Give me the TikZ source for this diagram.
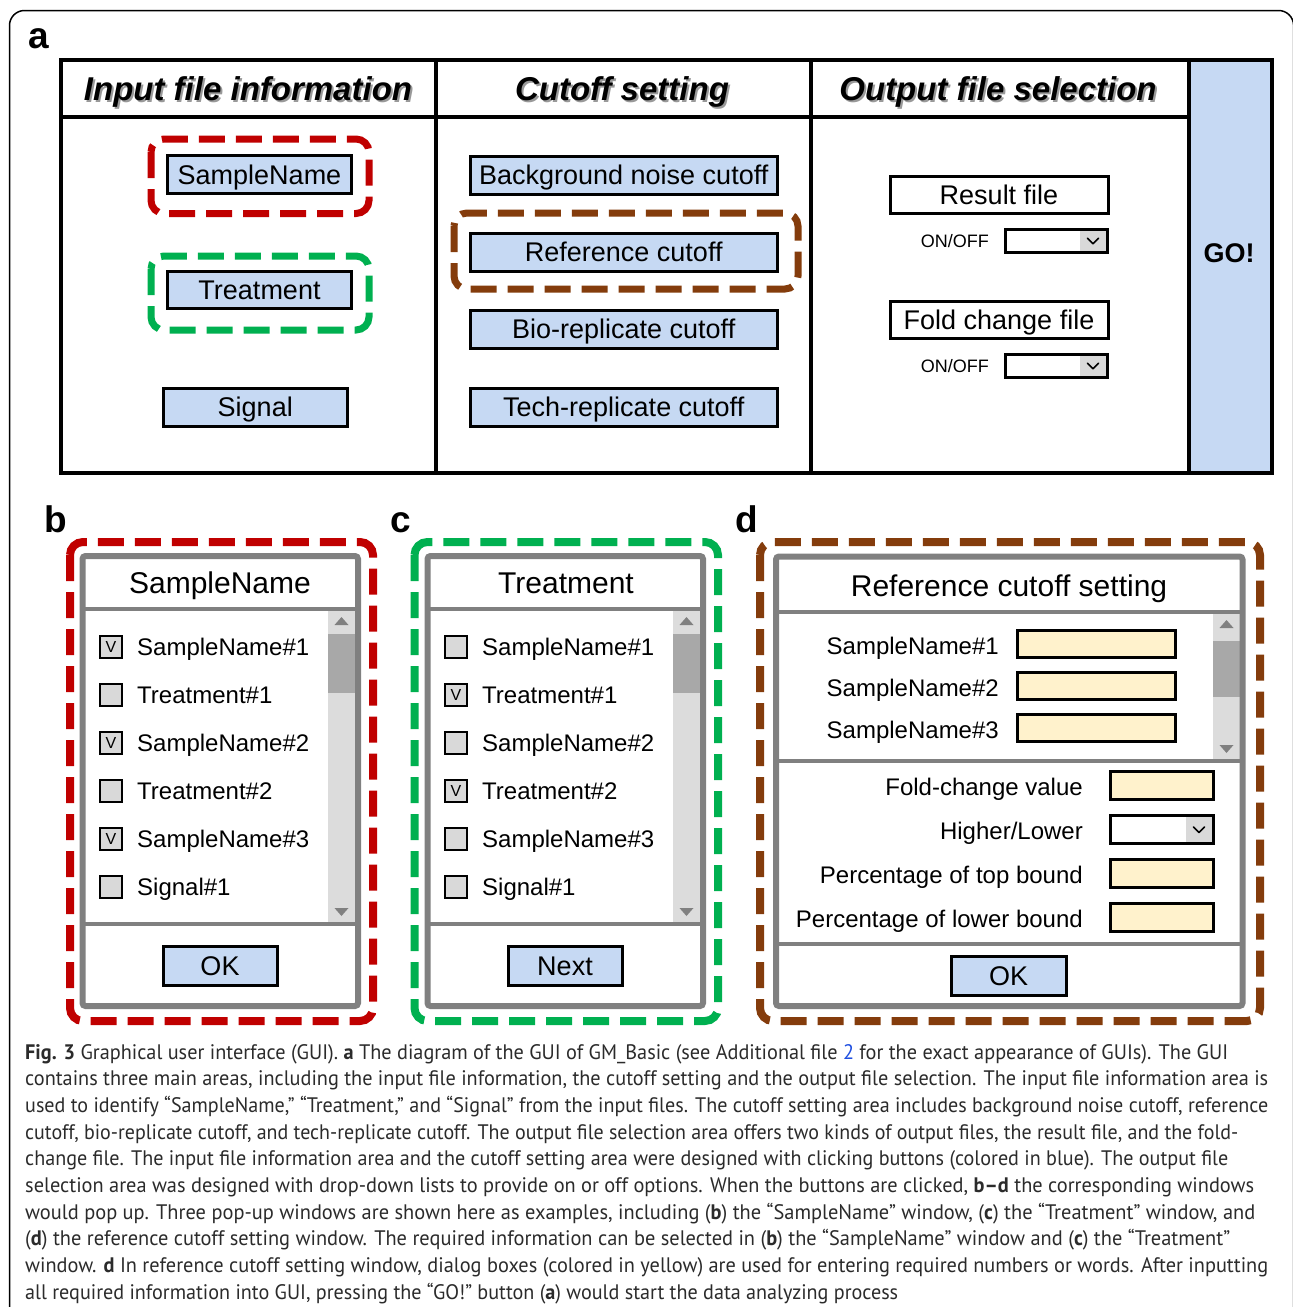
\documentclass[tikz,border=0pt]{standalone}
\usepackage{fontspec}
\setmainfont{Liberation Sans}
\newfontfamily\capfont{PT Sans}
\usepackage{graphicx}
\definecolor{btnblue}{HTML}{C6D9F3}
\definecolor{yel}{HTML}{FFF2CC}
\definecolor{rd}{HTML}{C00000}
\definecolor{gn}{HTML}{00B050}
\definecolor{br}{HTML}{843C0C}
\definecolor{wing}{HTML}{808080}
\definecolor{track}{HTML}{DCDCDC}
\definecolor{thumbc}{HTML}{A8A8A8}
\definecolor{cbfill}{HTML}{D9D9D9}
\definecolor{capcol}{HTML}{2B2B2B}
\definecolor{linkblue}{HTML}{1F4FE0}
\newcommand\fs[1]{\fontsize{#1}{#1}\selectfont}
% style, name, x1, y1, x2, y2, text
\newcommand\mybox[7]{\node[#1, minimum width={(#5)-(#3)}, minimum height={(#6)-(#4)}] (#2) at ({((#3)+(#5))/2},{((#4)+(#6))/2}) {#7};}
% name, x1, y1, x2, y2
\newcommand\dropdown[5]{%
  \node[ddbox, minimum width={(#4)-(#2)}, minimum height={(#5)-(#3)}] (#1) at ({((#2)+(#4))/2},{((#3)+(#5))/2}) {};
  \fill[cbfill] ({(#4)-28},{(#3)+1.5}) rectangle ({(#4)-1.5},{(#5)-1.5});
  \draw[line width=1.6, line cap=round, line join=round] ({(#4)-20},{((#3)+(#5))/2-2.5}) -- ({(#4)-14.5},{((#3)+(#5))/2+3}) -- ({(#4)-9},{((#3)+(#5))/2-2.5});
}
% x1, y1, x2, y2, thumb1, thumb2
\newcommand\scrollbar[6]{%
  \fill[track] (#1,#2) rectangle (#3,#4);
  \fill[thumbc] (#1,#5) rectangle (#3,#6);
  \fill[wing] ({((#1)+(#3))/2-7},{(#2)+14}) -- ({((#1)+(#3))/2+7},{(#2)+14}) -- ({((#1)+(#3))/2},{(#2)+6}) -- cycle;
  \fill[wing] ({((#1)+(#3))/2-7},{(#4)-14}) -- ({((#1)+(#3))/2+7},{(#4)-14}) -- ({((#1)+(#3))/2},{(#4)-6}) -- cycle;
}
% name, y, width, text
\newcommand\capline[4]{\node[capl] (#1) at (25,#2) {\resizebox{#3pt}{\height}{#4}};}
\begin{document}
\begin{tikzpicture}[x=1pt,y=-1pt,
  btn/.style={draw, line width=3, fill=btnblue, inner sep=0, font=\fs{27}, text height=19.3pt, text depth=0pt},
  wbtn/.style={btn, fill=white},
  ybox/.style={draw, line width=3, fill=yel, inner sep=0},
  ddbox/.style={draw, line width=3, fill=white, inner sep=0},
  hdr/.style={inner sep=0, font=\fs{33}\bfseries\itshape, text height=23.6pt, text depth=0pt},
  hdrsh/.style={hdr, text=black!40},
  item/.style={inner sep=0, font=\fs{24}, text height=17.2pt, text depth=0pt},
  title/.style={inner sep=0, font=\fs{30}, text height=21.5pt, text depth=0pt},
  small/.style={inner sep=0, font=\fs{18}, text height=12.9pt, text depth=0pt},
  plabel/.style={anchor=base west, inner sep=0, font=\fs{37}\bfseries},
  cb/.style={draw, line width=2.2, fill=cbfill, minimum size=22, inner sep=0, font=\fs{16}, text height=11.4pt, text depth=0pt},
  win/.style={draw=wing, line width=6, rounded corners=3},
  wdiv/.style={draw=wing, line width=4},
  dashfr/.style={line width=8, rounded corners=13, dash pattern=on 26pt off 11pt},
  capl/.style={anchor=base west, inner sep=0, font=\capfont\fs{21}, text=capcol}
]
\useasboundingbox (0,0) rectangle (1293,1307);
\fill[white] (0,0) rectangle (1293,1307);
% outer frame
\draw[line width=1.5, rounded corners=15] (9.5,1340) -- (9.5,10.5) -- (1293.6,10.5) -- (1293.6,1340);

% ===== panel a =====
\node[plabel] (la) at (28,48) {a};
\fill[btnblue] (1189,59.5) rectangle (1272,473);
\draw[line width=4] (60.5,59.5) rectangle (1272,473);
\draw[line width=4] (436,59.5) -- (436,473);
\draw[line width=4] (811,59.5) -- (811,473);
\draw[line width=4] (1189,59.5) -- (1189,473);
\draw[line width=4] (60.5,117) -- (1189,117);
\node[hdrsh] at (250,91) {Input file information};
\node[hdr] (h1) at (248,88.5) {Input file information};
\node[hdrsh] at (624,91) {Cutoff setting};
\node[hdr] (h2) at (622,88.5) {Cutoff setting};
\node[hdrsh] at (1000,91) {Output file selection};
\node[hdr] (h3) at (998,88.5) {Output file selection};
\node[inner sep=0, font=\fs{27}\bfseries, text height=19.3pt, text depth=0pt] (go) at (1229,253) {GO!};

\draw[dashfr, line width=7, draw=rd] (151,139) rectangle (369,213.5);
\draw[dashfr, line width=7, draw=gn] (151,256) rectangle (369,330);
\draw[dashfr, line width=7, draw=br] (454,213) rectangle (798,289);
\mybox{btn}{bsn}{167.5}{155.5}{351.5}{193.5}{SampleName}
\mybox{btn}{btr}{167.5}{271.5}{351.5}{308.5}{Treatment}
\mybox{btn}{bsg}{163.5}{388}{347}{426}{Signal}
\mybox{btn}{bbg}{470.5}{156}{777}{194}{Background noise cutoff}
\mybox{btn}{bref}{470.5}{233}{777}{271}{Reference cutoff}
\mybox{btn}{bbio}{470.5}{310}{777}{348}{Bio-replicate cutoff}
\mybox{btn}{btech}{470.5}{388}{777}{426}{Tech-replicate cutoff}
\mybox{wbtn}{bres}{890}{176.5}{1108}{213.5}{Result file}
\mybox{wbtn}{bfold}{890}{301}{1108}{338.5}{Fold change file}
\node[small, anchor=east] (on1) at (989,241) {ON/OFF};
\dropdown{dd1}{1005.5}{229.5}{1107.5}{252}
\node[small, anchor=east] (on2) at (989,366) {ON/OFF};
\dropdown{dd2}{1005.5}{354.5}{1107.5}{377}

% ===== panel b =====
\node[plabel] (lb) at (44,532) {b};
\draw[dashfr, draw=rd] (70,542) rectangle (373,1021);
\scrollbar{328}{611}{355}{922}{634}{693}
\draw[win] (82.5,556) rectangle (358,1006);
\draw[wdiv] (82.5,608.5) -- (358,608.5);
\draw[wdiv] (82.5,924) -- (358,924);
\node[title] (tb) at (220,583) {SampleName};
\node[cb] (cb1) at (111,647) {V};  \node[item, anchor=west] (ib1) at (137,647) {SampleName\#1};
\node[cb] (cb2) at (111,695) {};   \node[item, anchor=west] (ib2) at (137,695) {Treatment\#1};
\node[cb] (cb3) at (111,743) {V};  \node[item, anchor=west] (ib3) at (137,743) {SampleName\#2};
\node[cb] (cb4) at (111,791) {};   \node[item, anchor=west] (ib4) at (137,791) {Treatment\#2};
\node[cb] (cb5) at (111,839) {V};  \node[item, anchor=west] (ib5) at (137,839) {SampleName\#3};
\node[cb] (cb6) at (111,887) {};   \node[item, anchor=west] (ib6) at (137,887) {Signal\#1};
\mybox{btn}{okb}{163}{946}{277}{985}{OK}

% ===== panel c =====
\node[plabel] (lc) at (390,532) {c};
\draw[dashfr, draw=gn] (414.5,542) rectangle (718,1021);
\scrollbar{673}{611}{700}{922}{634}{693}
\draw[win] (427.5,556) rectangle (703,1006);
\draw[wdiv] (427.5,608.5) -- (703,608.5);
\draw[wdiv] (427.5,924) -- (703,924);
\node[title] (tc) at (566,583) {Treatment};
\node[cb] (cc1) at (456,647) {};   \node[item, anchor=west] (ic1) at (482,647) {SampleName\#1};
\node[cb] (cc2) at (456,695) {V};  \node[item, anchor=west] (ic2) at (482,695) {Treatment\#1};
\node[cb] (cc3) at (456,743) {};   \node[item, anchor=west] (ic3) at (482,743) {SampleName\#2};
\node[cb] (cc4) at (456,791) {V};  \node[item, anchor=west] (ic4) at (482,791) {Treatment\#2};
\node[cb] (cc5) at (456,839) {};   \node[item, anchor=west] (ic5) at (482,839) {SampleName\#3};
\node[cb] (cc6) at (456,887) {};   \node[item, anchor=west] (ic6) at (482,887) {Signal\#1};
\mybox{btn}{nextc}{508}{946}{622}{985}{Next}

% ===== panel d =====
\node[plabel] (ld) at (735,532) {d};
\draw[dashfr, draw=br] (760,542) rectangle (1260,1021);
\scrollbar{1213}{614}{1240}{759}{641}{697}
\draw[win] (776,556.5) rectangle (1242.5,1006);
\draw[wdiv] (776,611.5) -- (1242.5,611.5);
\draw[wdiv] (776,761) -- (1242.5,761);
\draw[wdiv] (776,944) -- (1242.5,944);
\node[title] (td) at (1009,586) {Reference cutoff setting};
\node[item, anchor=east] (id1) at (999,646) {SampleName\#1};
\node[item, anchor=east] (id2) at (999,688) {SampleName\#2};
\node[item, anchor=east] (id3) at (999,730) {SampleName\#3};
\mybox{ybox}{y1}{1017.5}{630.5}{1175.5}{657.5}{}
\mybox{ybox}{y2}{1017.5}{672.5}{1175.5}{699.5}{}
\mybox{ybox}{y3}{1017.5}{714.5}{1175.5}{741.5}{}
\node[item, anchor=east] (fc) at (1083,787) {Fold-change value};
\node[item, anchor=east] (hl) at (1083,831) {Higher/Lower};
\node[item, anchor=east] (pt) at (1083,875) {Percentage of top bound};
\node[item, anchor=east] (pl) at (1083,919) {Percentage of lower bound};
\mybox{ybox}{yfc}{1110.5}{771.5}{1213.5}{799.5}{}
\dropdown{ddhl}{1110.5}{815.5}{1213.5}{843.5}
\mybox{ybox}{ypt}{1110.5}{859.5}{1213.5}{887.5}{}
\mybox{ybox}{ypl}{1110.5}{903.5}{1213.5}{931}{}
\mybox{btn}{okd}{951}{956}{1066}{995}{OK}

% ===== caption =====
\capline{c1}{1059}{1203}{\textbf{Fig. 3} Graphical user interface (GUI). \textbf{a} The diagram of the GUI of GM\_Basic (see Additional file \textcolor{linkblue}{2} for the exact appearance of GUIs). The GUI}
\capline{c2}{1085.7}{1243}{contains three main areas, including the input file information, the cutoff setting and the output file selection. The input file information area is}
\capline{c3}{1112.4}{1243}{used to identify “SampleName,” “Treatment,” and “Signal” from the input files. The cutoff setting area includes background noise cutoff, reference}
\capline{c4}{1139.1}{1213}{cutoff, bio-replicate cutoff, and tech-replicate cutoff. The output file selection area offers two kinds of output files, the result file, and the fold-}
\capline{c5}{1165.8}{1203}{change file. The input file information area and the cutoff setting area were designed with clicking buttons (colored in blue). The output file}
\capline{c6}{1192.5}{1229}{selection area was designed with drop-down lists to provide on or off options. When the buttons are clicked, \textbf{b–d} the corresponding windows}
\capline{c7}{1219.2}{1230}{would pop up. Three pop-up windows are shown here as examples, including (\textbf{b}) the “SampleName” window, (\textbf{c}) the “Treatment” window, and}
\capline{c8}{1245.9}{1205}{(\textbf{d}) the reference cutoff setting window. The required information can be selected in (\textbf{b}) the “SampleName” window and (\textbf{c}) the “Treatment”}
\capline{c9}{1272.6}{1243}{window. \textbf{d} In reference cutoff setting window, dialog boxes (colored in yellow) are used for entering required numbers or words. After inputting}
\capline{c10}{1299.3}{873}{all required information into GUI, pressing the “GO!” button (\textbf{a}) would start the data analyzing process}
\end{tikzpicture}
\end{document}
